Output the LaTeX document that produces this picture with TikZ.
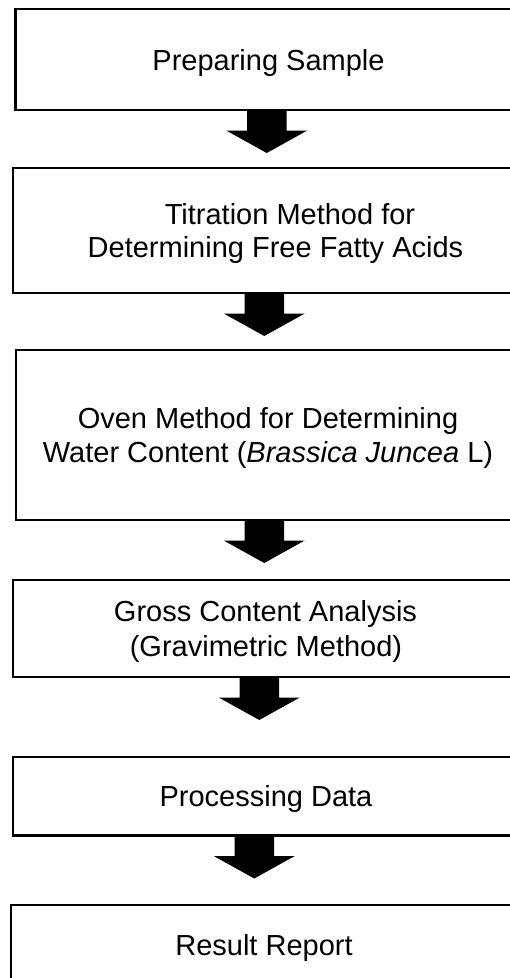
\documentclass[tikz,border=0pt]{standalone}
\usepackage{fontspec}
\setmainfont{Liberation Sans}
\begin{document}
\begin{tikzpicture}[x=1pt,y=-1pt,
  box/.style={draw=black, line width=2.3pt, fill=white, inner sep=0pt, outer sep=0pt, anchor=north west},
  txt/.style={inner sep=0pt, anchor=base, font=\fontsize{29}{34}\selectfont},
  blockarrow/.pic={\fill[black] (-19.75,0) -- (19.75,0) -- (19.75,20.5) -- (40.5,20.5) -- (0,43) -- (-40.5,20.5) -- (-19.75,20.5) -- cycle;}]
\useasboundingbox (0,0) rectangle (510,978);
\clip (0,0) rectangle (510,978);
\fill[white] (0,0) rectangle (510,978);
% boxes
\node[box, minimum width=506.5, minimum height=100.7] (b1) at (15.5,9.3) {};
\node[box, minimum width=508.7, minimum height=125] (b2) at (13.3,168) {};
\node[box, minimum width=506.3, minimum height=170] (b3) at (15.7,350) {};
\node[box, minimum width=509.3, minimum height=97] (b4) at (12.7,580) {};
\node[box, minimum width=509.3, minimum height=78.5] (b5) at (12.7,757) {};
\node[box, minimum width=511, minimum height=90] (b6) at (11,905) {};
% texts
\node[txt] (t1) at (268.5,70) {Preparing Sample};
\node[txt] (t2a) at (290,224) {Titration Method for};
\node[txt] (t2b) at (275.5,257) {Determining Free Fatty Acids};
\node[txt] (t3a) at (268,428) {Oven Method for Determining};
\node[txt] (t3b) at (268,462) {Water Content (\textit{Brassica Juncea} L)};
\node[txt] (t4a) at (265.5,621) {Gross Content Analysis};
\node[txt] (t4b) at (266,656) {(Gravimetric Method)};
\node[txt] (t5) at (266,806) {Processing Data};
\node[txt] (t6) at (264,955) {Result Report};
% block arrows
\pic at ([xshift=-2pt]b1.south) {blockarrow};
\pic at ([xshift=-3.4pt]b2.south) {blockarrow};
\pic at ([xshift=-4.6pt]b3.south) {blockarrow};
\pic at ([xshift=-8.1pt]b4.south) {blockarrow};
\pic at ([xshift=-13.1pt]b5.south) {blockarrow};
\end{tikzpicture}
\end{document}
